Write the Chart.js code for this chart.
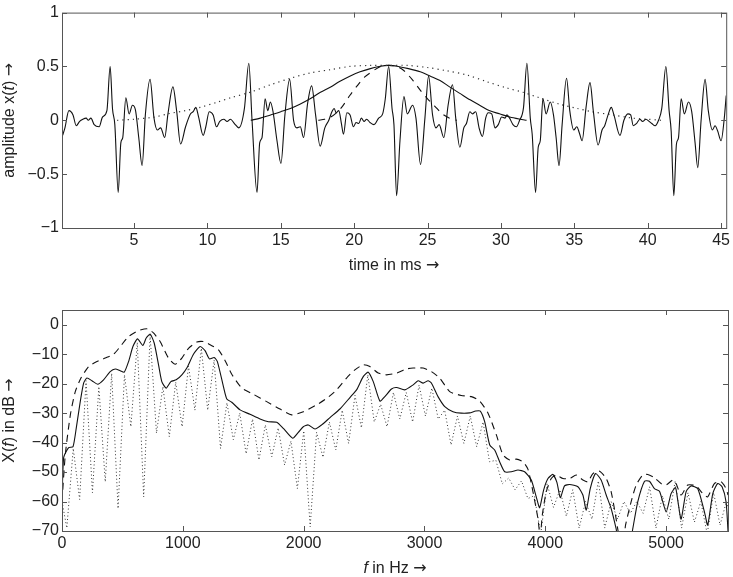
<!DOCTYPE html>
<html>
<head>
<meta charset="utf-8">
<title>Signal and spectrum</title>
<script src="https://cdn.jsdelivr.net/npm/chart.js@4.4.1/dist/chart.umd.min.js"></script>
<style>
  html, body { margin: 0; padding: 0; background: #fff; }
  #wrap { position: relative; width: 733px; height: 577px; }
  canvas { position: absolute; left: 0; }
  #timeChart { top: 0; }
  #specChart { top: 288px; }
</style>
</head>
<body>
<div id="wrap">
  <canvas id="timeChart" width="733" height="285"></canvas>
  <canvas id="specChart" width="733" height="289"></canvas>
</div>
<script>
// Sinal no tempo (ms, amplitude)
const signalT = [0.13, 0.29, 0.56, 0.84, 1.06, 1.29, 1.51, 1.74, 1.88, 2.06, 2.28, 2.62, 2.85, 3.15, 3.37, 3.53, 3.69, 3.92, 4.10, 4.23,
  4.44, 4.66, 4.89, 5.09, 5.32, 5.55, 5.77, 6.09, 6.36, 6.59, 6.81, 7.09, 7.31, 7.65, 7.90, 8.17, 8.51, 8.85, 9.03, 9.21,
  9.40, 9.71, 9.89, 10.12, 10.39, 10.62, 10.84, 11.12, 11.34, 11.57, 11.84, 12.14, 12.52, 12.82, 13.04, 13.38, 13.56, 13.72, 13.93, 14.11,
  14.29, 14.47, 14.74, 15.01, 15.28, 15.60, 15.87, 16.10, 16.33, 16.55, 16.82, 17.10, 17.37, 17.68, 18.00, 18.27, 18.48, 18.64, 18.77, 18.95,
  19.13, 19.27, 19.50, 19.72, 19.95, 20.13, 20.31, 20.49, 20.67, 20.85, 21.08, 21.35, 21.67, 21.94, 22.12, 22.35, 22.58, 22.71, 22.89, 23.12,
  23.39, 23.62, 23.98, 24.21, 24.52, 24.82, 25.07, 25.34, 25.57, 25.79, 26.11, 26.40, 26.70, 26.92, 27.20, 27.47, 27.65, 27.88, 28.06, 28.28,
  28.51, 28.74, 28.96, 29.14, 29.37, 29.60, 29.82, 30.05, 30.28, 30.41, 30.59, 30.82, 31.05, 31.27, 31.54, 31.77, 32.00, 32.13, 32.36, 32.54,
  32.68, 32.86, 33.08, 33.36, 33.58, 33.76, 33.96, 34.17, 34.47, 34.69, 34.96, 35.17, 35.35, 35.53, 35.80, 36.07, 36.30, 36.62, 36.89, 37.07,
  37.30, 37.52, 37.70, 38.11, 38.38, 38.65, 38.84, 39.02, 39.24, 39.47, 39.65, 39.88, 40.10, 40.28, 40.51, 40.74, 40.96, 41.24, 41.46, 41.60,
  41.78, 41.96, 42.10, 42.28, 42.50, 42.78, 43.00, 43.23, 43.41, 43.64, 43.91, 44.13, 44.41, 44.59, 44.77, 45.00, 45.22, 45.35];
const signalAmp = [-0.14, -0.07, 0.09, 0.05, -0.05, -0.01, 0.01, 0.02, 0.0, 0.02, -0.04, -0.06, 0.03, 0.09, 0.50, 0.11, -0.04, -0.67, -0.21, -0.16,
  0.21, 0.06, 0.14, 0.10, -0.16, -0.42, 0.05, 0.38, 0.02, -0.09, -0.07, -0.16, 0.06, 0.31, 0.09, -0.22, -0.06, 0.06, 0.08, 0.12,
  0.03, -0.14, -0.06, 0.08, 0.05, -0.06, -0.01, 0.01, -0.01, 0.01, -0.03, -0.07, 0.11, 0.53, 0.0, -0.67, -0.21, -0.16, 0.20, 0.09,
  0.17, 0.08, -0.19, -0.40, 0.05, 0.38, 0.0, -0.07, -0.06, -0.16, 0.15, 0.32, 0.05, -0.24, -0.07, 0.0, 0.08, 0.11, 0.07, 0.09,
  -0.03, -0.13, 0.07, 0.05, -0.06, -0.02, -0.03, 0.02, -0.01, 0.01, -0.02, -0.04, 0.02, 0.06, 0.20, 0.50, 0.11, -0.04, -0.70, -0.19,
  0.22, 0.06, 0.14, 0.02, -0.41, 0.02, 0.41, 0.05, -0.07, -0.04, -0.16, 0.14, 0.33, 0.02, -0.25, -0.07, -0.03, 0.08, 0.06, 0.08,
  -0.07, -0.15, 0.02, 0.07, 0.06, -0.07, -0.04, 0.03, 0.02, 0.05, 0.02, -0.04, -0.06, 0.0, 0.12, 0.53, 0.02, -0.13, -0.67, -0.25,
  -0.19, 0.20, 0.06, 0.17, 0.05, -0.16, -0.42, -0.04, 0.39, 0.09, -0.09, -0.06, -0.12, -0.19, 0.12, 0.35, 0.08, -0.23, -0.09, -0.05,
  0.05, 0.12, 0.05, -0.14, 0.0, 0.06, 0.05, -0.05, -0.03, 0.01, -0.01, 0.01, -0.01, -0.03, -0.05, 0.0, 0.11, 0.50, 0.09, -0.10,
  -0.70, -0.22, -0.16, 0.20, 0.06, 0.17, 0.08, -0.21, -0.44, 0.0, 0.38, 0.09, -0.09, -0.05, -0.10, -0.19, 0.02, 0.23];

// Janelas (larga pontilhada, média contínua, estreita tracejada)
const wideWinT = [3.85, 5.0, 6.4, 7.3, 8.5, 9.5, 10.7, 11.6, 12.9, 14.3, 15.65, 17.0, 18.4, 19.7, 21.1, 22.35,
  23.6, 25.0, 26.3, 27.7, 29.0, 30.4, 31.5, 32.6, 34.0, 35.2, 36.2, 37.6, 39.0, 40.0, 40.9];
const wideWinY = [0, 0.01, 0.03, 0.06, 0.09, 0.12, 0.17, 0.21, 0.26, 0.33, 0.39, 0.44, 0.47, 0.50, 0.51, 0.51,
  0.51, 0.49, 0.46, 0.42, 0.36, 0.30, 0.26, 0.21, 0.15, 0.11, 0.08, 0.05, 0.02, 0.01, 0];
const midWinT = [12.95, 13.6, 14.3, 15.0, 15.65, 16.3, 17.0, 17.7, 18.4, 19.0, 19.7, 20.4, 21.1, 21.7, 22.35,
  23.0, 23.7, 24.5, 25.2, 25.85, 26.5, 27.2, 27.9, 28.55, 29.2, 29.9, 30.6, 31.3, 31.75];
const midWinY = [0, 0.02, 0.05, 0.08, 0.11, 0.15, 0.20, 0.26, 0.31, 0.36, 0.41, 0.45, 0.48, 0.50, 0.51,
  0.50, 0.48, 0.45, 0.41, 0.37, 0.31, 0.25, 0.19, 0.14, 0.09, 0.06, 0.03, 0.01, 0];
const shortWinT = [17.55, 18.0, 18.4, 18.8, 19.2, 19.7, 20.2, 20.7, 21.3, 21.8, 22.35, 22.9, 23.4, 24.0, 24.5, 25.0, 25.5, 26.0, 26.5, 27.0];
const shortWinY = [0, 0.01, 0.03, 0.07, 0.13, 0.23, 0.32, 0.40, 0.46, 0.50, 0.51, 0.50, 0.46, 0.37, 0.28, 0.20, 0.13, 0.06, 0.02, 0];

// Espectros (Hz, dB)
const solidF = [0, 14, 55, 91, 118, 151, 179, 206, 248, 295, 344, 399, 441, 482, 515, 551, 587, 625, 669, 697,
  730, 763, 799, 826, 862, 901, 945, 992, 1033, 1088, 1143, 1184, 1220, 1259, 1286, 1336, 1364, 1405, 1474, 1556,
  1639, 1708, 1777, 1832, 1909, 1956, 1997, 2038, 2094, 2149, 2218, 2300, 2383, 2438, 2493, 2534, 2576, 2631, 2672, 2727,
  2769, 2837, 2906, 2947, 2989, 3030, 3057, 3112, 3168, 3236, 3305, 3374, 3424, 3462, 3498, 3540, 3581, 3622, 3664, 3719,
  3774, 3829, 3884, 3925, 3953, 3986, 4022, 4063, 4096, 4124, 4159, 4201, 4270, 4311, 4339, 4372, 4416, 4462, 4504, 4545,
  4586, 4610, 4700, 4724, 4765, 4821, 4862, 4903, 4945, 5000, 5041, 5077, 5096, 5124, 5165, 5206, 5261, 5317, 5344, 5386,
  5427, 5463, 5496, 5512];
const solidDb = [-60, -45, -41.7, -41.4, -35.1, -26.1, -19.8, -18.1, -19.0, -20.2, -18.7, -15.9, -15.0, -15.6, -16.1, -12.5, -7.4, -4.8, -7.0, -4.5,
  -3.2, -6.2, -13.6, -19.3, -21.5, -19.3, -18.7, -17.0, -14.7, -10.0, -7.4, -8.8, -11.6, -11.1, -12.5, -21.0, -25.2, -26.3, -28.9, -30.4,
  -32.0, -32.9, -33.1, -35.2, -38.5, -36.5, -34.6, -34.0, -35.4, -34.0, -31.5, -28.6, -24.7, -22.1, -17.6, -16.1, -19.3, -25.9, -24.4, -21.8,
  -21.3, -22.1, -20.4, -19.0, -19.8, -19.0, -19.8, -24.4, -27.8, -29.5, -30.0, -29.9, -29.3, -29.3, -32.9, -40.8, -42.5, -46.5, -49.9, -49.9,
  -49.3, -49.9, -52.7, -58.4, -62.1, -56.1, -52.2, -50.8, -53.5, -58.7, -54.7, -54.2, -55.0, -57.8, -62.9, -55.6, -50.5, -52.7, -57.8, -62.4,
  -69.2, -74, -74, -69.2, -60.1, -53.1, -53.1, -55.6, -56.5, -63.5, -57.3, -55.3, -59.5, -66.0, -56.7, -54.7, -55.6, -63.5, -68.0, -57.3,
  -53.9, -55.0, -60.1, -70];
const dashedF = [0, 27, 69, 110, 157, 220, 289, 358, 427, 482, 551, 633, 708, 757, 812, 881, 937, 992, 1047, 1116,
  1171, 1226, 1295, 1350, 1405, 1488, 1584, 1694, 1804, 1901, 1997, 2107, 2190, 2273, 2355, 2424, 2493, 2548, 2617, 2686,
  2769, 2850, 2906, 2989, 3057, 3126, 3209, 3305, 3388, 3457, 3526, 3595, 3650, 3705, 3760, 3815, 3856, 3898, 3939, 3958,
  3975, 4008, 4049, 4090, 4146, 4201, 4256, 4311, 4352, 4394, 4449, 4504, 4545, 4581, 4614, 4650, 4664, 4710, 4752, 4807,
  4848, 4903, 4958, 5000, 5055, 5082, 5124, 5179, 5248, 5303, 5344, 5399, 5454, 5496, 5512];
const dashedDb = [-60, -44.2, -30.6, -22.7, -18.1, -14.2, -12.5, -11.3, -10.0, -7.4, -4.0, -2.0, -1.4, -2.8, -5.7, -11.3, -13.4, -11.3, -8.0, -5.9,
  -5.7, -6.8, -8.5, -12.2, -16.8, -21.5, -23.6, -26.1, -28.6, -30.6, -29.5, -27.2, -25.0, -22.1, -18.1, -15.3, -13.6, -14.2, -16.4, -17.0,
  -16.4, -15.0, -14.7, -14.7, -15.9, -18.1, -22.7, -24.0, -24.4, -25.9, -30.0, -37.4, -44.2, -45.9, -45.6, -46.5, -49.0, -56.7, -65.8, -72,
  -64.6, -56.7, -52.2, -51.0, -52.2, -52.2, -51.0, -52.7, -53.3, -50.5, -49.7, -52.2, -56.7, -64.6, -72, -72, -68, -60.1, -54.4, -51.0,
  -50.8, -51.9, -53.9, -54.4, -52.7, -53.9, -57.8, -54.4, -54.7, -57.3, -58.4, -53.9, -53.3, -55.6, -57.8];
const dottedF = [0, 40, 93, 146, 199, 252, 305, 358, 411, 464, 517, 570, 623, 676, 729, 782, 835, 888, 941, 994,
  1047, 1100, 1153, 1206, 1259, 1312, 1365, 1418, 1471, 1524, 1577, 1630, 1683, 1736, 1789, 1842, 1895, 1948, 2001, 2054,
  2107, 2160, 2213, 2266, 2319, 2372, 2425, 2478, 2531, 2584, 2637, 2690, 2743, 2796, 2849, 2902, 2955, 3008, 3061, 3114,
  3167, 3220, 3273, 3326, 3379, 3432, 3485, 3538, 3591, 3644, 3697, 3750, 3803, 3856, 3909, 3962, 4015, 4068, 4121, 4174,
  4227, 4280, 4333, 4386, 4439, 4492, 4545, 4598, 4651, 4704, 4757, 4810, 4863, 4916, 4969, 5022, 5075, 5128, 5181, 5234,
  5287, 5340, 5393, 5446, 5499, 5512];
const dottedDb = [-60, -69, -42, -59.3, -19, -57, -21, -53.3, -16.5, -62.4, -17, -34.6, -6, -58.4, -3.5, -36.8, -21, -38, -19.5, -34.6,
  -14, -29, -8, -29, -12, -42, -26.5, -39, -30, -43.8, -32, -45.9, -34, -44.8, -35, -47.6, -39.5, -55.6, -36, -68.6,
  -36.5, -45, -33, -42.5, -29, -40.3, -24, -35, -17, -33, -27, -34.6, -23, -32, -23, -33, -20.5, -31, -21.5, -32,
  -29, -40.8, -31, -40.3, -31, -41.4, -33, -46.5, -46, -54, -52, -56, -53, -59, -58, -71, -54, -62, -56, -65,
  -56, -69, -60, -66, -53, -69, -60, -66, -60, -64, -60, -64, -55, -69, -58, -66, -53, -69, -57, -67,
  -60, -71, -57, -68, -60, -62];

// Ticks
const timeTicks = [5, 10, 15, 20, 25, 30, 35, 40, 45];
const ampTicks = [-1, -0.5, 0, 0.5, 1];
const freqTicks = [0, 1000, 2000, 3000, 4000, 5000];
const dbTicks = [-70, -60, -50, -40, -30, -20, -10, 0];

const toPts = (xs, ys) => xs.map((x, i) => ({ x: x, y: ys[i] }));
const fmt = (v) => (v < 0 ? "\u2212" + Math.abs(v) : String(v));

Chart.defaults.font.family = '"Liberation Sans", Arial, sans-serif';
Chart.defaults.font.size = 16;
Chart.defaults.color = "#222";

// Moldura com ticks para dentro nos quatro lados
const framePlugin = {
  id: "frame",
  afterDraw(chart) {
    const { ctx, chartArea: a, scales } = chart;
    const len = 5;
    ctx.save();
    ctx.strokeStyle = "#555";
    ctx.lineWidth = 1;
    ctx.strokeRect(a.left + 0.5, a.top + 0.5, a.right - a.left, a.bottom - a.top);
    ctx.beginPath();
    scales.x.ticks.forEach((t) => {
      const px = Math.round(scales.x.getPixelForValue(t.value)) + 0.5;
      ctx.moveTo(px, a.bottom);
      ctx.lineTo(px, a.bottom - len);
      ctx.moveTo(px, a.top);
      ctx.lineTo(px, a.top + len);
    });
    scales.y.ticks.forEach((t) => {
      const py = Math.round(scales.y.getPixelForValue(t.value)) + 0.5;
      ctx.moveTo(a.left, py);
      ctx.lineTo(a.left + len, py);
      ctx.moveTo(a.right, py);
      ctx.lineTo(a.right - len, py);
    });
    ctx.stroke();
    ctx.restore();
  },
};

// Títulos dos eixos com partes em itálico
const FONTS = {
  n: '16px "Liberation Sans", Arial, sans-serif',
  i: 'italic 16px "Liberation Sans", Arial, sans-serif',
  a: '16px "DejaVu Sans", sans-serif',
};
function drawRuns(ctx, runs, cx, cy, rot) {
  ctx.save();
  ctx.translate(cx, cy);
  ctx.rotate(rot);
  ctx.fillStyle = "#222";
  ctx.textBaseline = "middle";
  ctx.textAlign = "left";
  let w = 0;
  runs.forEach((r) => { ctx.font = FONTS[r[1]]; w += ctx.measureText(r[0]).width; });
  let x = -w / 2;
  runs.forEach((r) => {
    ctx.font = FONTS[r[1]];
    ctx.fillText(r[0], x, 0);
    x += ctx.measureText(r[0]).width;
  });
  ctx.restore();
}
const titlePlugin = {
  id: "axisTitles",
  afterDraw(chart, args, opts) {
    const a = chart.chartArea;
    drawRuns(chart.ctx, opts.x, (a.left + a.right) / 2, a.bottom + opts.xGap, 0);
    drawRuns(chart.ctx, opts.y, opts.yPos, (a.top + a.bottom) / 2, -Math.PI / 2);
  },
};

function axis(min, max, ticks, extra) {
  return Object.assign({
    type: "linear",
    min: min,
    max: max,
    grid: { display: false, drawTicks: false },
    border: { display: false },
    afterBuildTicks: (s) => { s.ticks = ticks.map((v) => ({ value: v })); },
    ticks: { callback: fmt, maxRotation: 0, autoSkip: false },
  }, extra);
}

// Gráfico do sinal
new Chart(document.getElementById("timeChart"), {
  type: "line",
  data: {
    datasets: [
      { data: toPts(signalT, signalAmp), borderColor: "#111", borderWidth: 1.1, cubicInterpolationMode: "monotone" },
      { data: toPts(wideWinT, wideWinY), borderColor: "#333", borderWidth: 1.2, borderDash: [1.2, 4], tension: 0.3 },
      { data: toPts(midWinT, midWinY), borderColor: "#111", borderWidth: 1.1, tension: 0.3 },
      { data: toPts(shortWinT, shortWinY), borderColor: "#111", borderWidth: 1.1, borderDash: [7, 6], tension: 0.3 },
    ],
  },
  options: {
    responsive: false,
    animation: false,
    devicePixelRatio: 1,
    layout: { padding: { top: 6, right: 5, left: 0, bottom: 0 } },
    elements: { point: { radius: 0 } },
    plugins: {
      legend: { display: false },
      tooltip: { enabled: false },
      axisTitles: {
        x: [["time in ms ", "n"], ["\u2192", "a"]],
        y: [["amplitude x(", "n"], ["t", "i"], [") ", "n"], ["\u2192", "a"]],
        xGap: 38,
        yPos: 10,
      },
    },
    scales: {
      x: axis(0.09, 45.35, timeTicks, { afterFit: (s) => { s.height = 57; } }),
      y: axis(-1, 1, ampTicks, { afterFit: (s) => { s.width = 62; } }),
    },
  },
  plugins: [framePlugin, titlePlugin],
});

// Gráfico do espectro
new Chart(document.getElementById("specChart"), {
  type: "line",
  data: {
    datasets: [
      { data: toPts(dottedF, dottedDb), borderColor: "#333", borderWidth: 1, borderDash: [1, 2.5], tension: 0, clip: 0 },
      { data: toPts(dashedF, dashedDb), borderColor: "#111", borderWidth: 1.1, borderDash: [7, 5], tension: 0.2, clip: 0 },
      { data: toPts(solidF, solidDb), borderColor: "#111", borderWidth: 1.1, tension: 0.2, clip: 0 },
    ],
  },
  options: {
    responsive: false,
    animation: false,
    devicePixelRatio: 1,
    layout: { padding: { top: 22, right: 5, left: 0, bottom: 0 } },
    elements: { point: { radius: 0 } },
    plugins: {
      legend: { display: false },
      tooltip: { enabled: false },
      axisTitles: {
        x: [["f", "i"], [" in Hz ", "n"], ["\u2192", "a"]],
        y: [["X(", "n"], ["f", "i"], [") in dB ", "n"], ["\u2192", "a"]],
        xGap: 38,
        yPos: 10,
      },
    },
    scales: {
      x: axis(0, 5512, freqTicks, { afterFit: (s) => { s.height = 46; } }),
      y: axis(-70, 5, dbTicks, { afterFit: (s) => { s.width = 62; } }),
    },
  },
  plugins: [framePlugin, titlePlugin],
});
</script>
</body>
</html>
